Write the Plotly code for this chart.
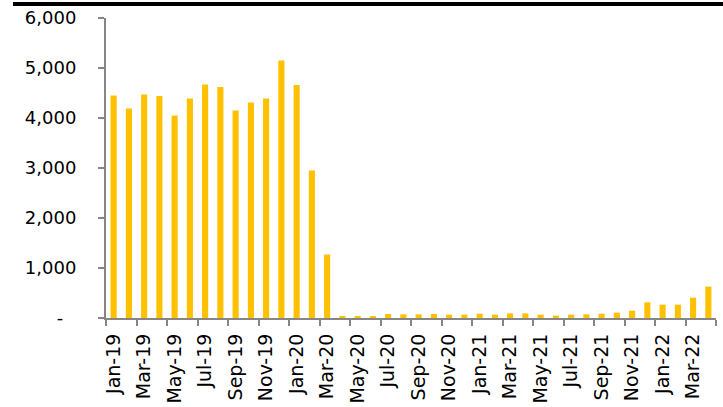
import plotly.graph_objects as go

months = ["Jan", "Feb", "Mar", "Apr", "May", "Jun", "Jul", "Aug", "Sep", "Oct", "Nov", "Dec"]
categories = [f"{m}-{y}" for y in ["19", "20", "21", "22"] for m in months][:40]

values = [
    4450, 4190, 4470, 4440, 4050, 4390, 4670, 4620, 4150, 4310, 4390, 5150,  # 2019
    4660, 2950, 1270, 35, 30, 40, 80, 73, 73, 80, 67, 67,                      # 2020
    87, 67, 93, 93, 67, 47, 67, 73, 87, 107, 147, 313,                         # 2021
    267, 267, 407, 627,                                                        # 2022
]

y_tickvals = [0, 1000, 2000, 3000, 4000, 5000, 6000]
y_ticktext = ["-\u00a0\u00a0\u200a", "1,000", "2,000", "3,000", "4,000", "5,000", "6,000"]

fig = go.Figure(
    go.Bar(x=categories, y=values, marker=dict(color="#FFC000", line=dict(width=0)))
)

fig.update_layout(
    width=723,
    height=407,
    margin=dict(l=106, r=7, t=18, b=89),
    plot_bgcolor="white",
    paper_bgcolor="white",
    bargap=0.6,
    showlegend=False,
    font=dict(family="DejaVu Sans", size=18, color="black"),
    shapes=[
        dict(type="rect", xref="paper", yref="paper",
             x0=-0.1525, x1=1.0115, y0=1.04, y1=1.0533,
             fillcolor="black", line=dict(width=0), layer="above"),
    ],
)

fig.update_xaxes(
    type="category",
    tickmode="linear",
    tick0=0,
    dtick=2,
    tickson="boundaries",
    ticks="outside",
    ticklen=6,
    tickwidth=2,
    tickcolor="#868686",
    showline=True,
    linecolor="#868686",
    linewidth=2,
    tickangle=-90,
    showgrid=False,
    range=[-0.5, 39.5],
    automargin=False,
    ticklabelstandoff=6,
    tickfont=dict(family="DejaVu Sans", size=19, color="black"),
)

fig.update_yaxes(
    range=[0, 6000],
    tickmode="array",
    tickvals=y_tickvals,
    ticktext=y_ticktext,
    ticks="outside",
    ticklen=6,
    tickwidth=2,
    tickcolor="#868686",
    showline=True,
    linecolor="#868686",
    linewidth=2,
    showgrid=False,
    zeroline=False,
    automargin=False,
    ticklabelstandoff=18,
    tickfont=dict(family="DejaVu Sans", size=18, color="black"),
)

fig.write_html("out.html")
